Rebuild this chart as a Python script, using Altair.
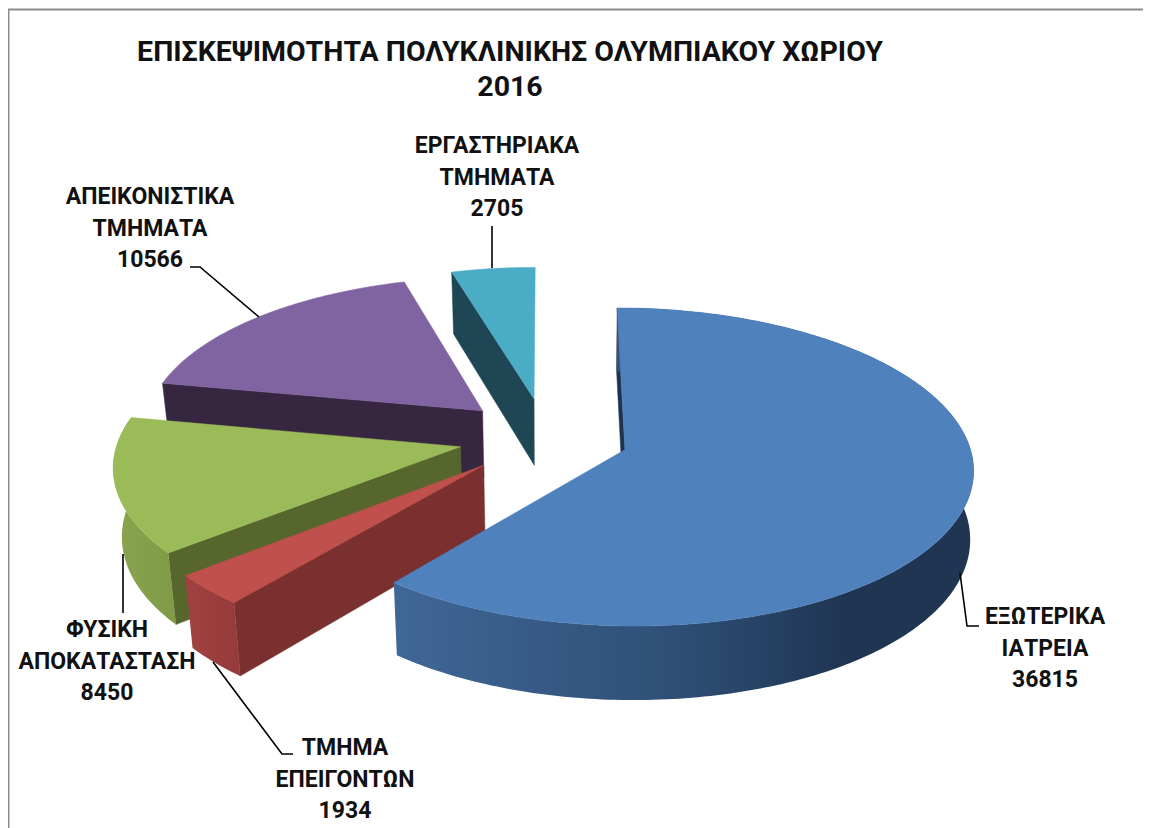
import math
import altair as alt

TITLE = ["ΕΠΙΣΚΕΨΙΜΟΤΗΤΑ ΠΟΛΥΚΛΙΝΙΚΗΣ ΟΛΥΜΠΙΑΚΟΥ ΧΩΡΙΟΥ", "2016"]
CATEGORIES = ["ΕΞΩΤΕΡΙΚΑ\nΙΑΤΡΕΙΑ", "ΤΜΗΜΑ\nΕΠΕΙΓΟΝΤΩΝ", "ΦΥΣΙΚΗ\nΑΠΟΚΑΤΑΣΤΑΣΗ",
              "ΑΠΕΙΚΟΝΙΣΤΙΚΑ\nΤΜΗΜΑΤΑ", "ΕΡΓΑΣΤΗΡΙΑΚΑ\nΤΜΗΜΑΤΑ"]
VALUES = [36815, 1934, 8450, 10566, 2705]
TOP_COLORS = ["#4F81BD", "#C0504D", "#9BBB59", "#8064A2", "#4BACC6"]
RADIAL_COLORS = ["#1E3350", "#7A302E", "#56662C", "#36263F", "#1E4654"]
OUTER_STOPS = [
    [(0, "#3F6797"), (0.5, "#2E4E74"), (0.78, "#1F3552"), (1, "#1F3552")],
    [(0, "#A04241"), (1, "#953B39")],
    [(0, "#8AA54E"), (1, "#7F9A46")],
    None,
    None,
]
LABEL_X = [1045, 345, 107, 150, 497]
LABEL_Y = [617, 748, 630, 197, 146]
LEADERS = [
    [(960, 573), (967, 626), (979, 626)],
    [(213, 662), (282, 754), (293, 754)],
    [(123, 554), (123, 613)],
    [(190, 267), (200, 267), (259, 317)],
    [(492, 226), (492, 268)],
]
EXPLODE = [0.24, 0.25, 0.253, 0.253, 0.253]
RADIUS = [0.99, 1.0, 0.988, 0.983, 0.983]

FONT = "Roboto"
FONT_SIZE = 23
CX, CY, R, RT, K = 546, 437, 346, 156, 0.109
W, H = 1135, 820
PROJ = dict(type="identity", scale=1, translate=[-8, -8])


def screen(px, py):
    s = 1 / (1 + K * py)
    return (CX + R * px * s, CY - RT * py * s)


def lower(p):
    x, y = p
    scale = 0.98 if x < CX else 0.992
    return (CX + (x - CX) * scale, y + 67.6 + 0.034 * (y - CY))


def polygon(points):
    ring = [[round(x, 2), round(y, 2)] for x, y in points]
    ring.append(ring[0])
    return {"type": "Feature", "properties": {}, "geometry": {"type": "Polygon", "coordinates": [ring]}}


def shape(feature, **mark):
    data = alt.Data(values={"type": "FeatureCollection", "features": [feature]},
                    format=alt.DataFormat(property="features", type="json"))
    return alt.Chart(data).mark_geoshape(**mark).project(**PROJ)


total = sum(VALUES)
slices = []
start = 0.0
for v in VALUES:
    end = start + v / total * 2 * math.pi
    slices.append((start, end))
    start = end

layers = []
for i in reversed(range(len(VALUES))):
    a0, a1 = slices[i]
    mid = (a0 + a1) / 2
    ox, oy = EXPLODE[i] * math.sin(mid), EXPLODE[i] * math.cos(mid)
    n = max(int((a1 - a0) * 60), 6)
    rr = RADIUS[i]
    arc = [screen(ox + rr * math.sin(a0 + (a1 - a0) * j / n), oy + rr * math.cos(a0 + (a1 - a0) * j / n))
           for j in range(n + 1)]
    apex = screen(ox, oy)
    radial = [apex, arc[0], lower(arc[0]), lower(apex)]
    layers.append(shape(polygon(radial), fill=RADIAL_COLORS[i], stroke=RADIAL_COLORS[i], strokeWidth=0.5))
    if OUTER_STOPS[i]:
        outer = arc + [lower(p) for p in reversed(arc)]
        grad = alt.LinearGradient(gradient="linear", x1=0, x2=1, y1=0, y2=0,
                                  stops=[alt.GradientStop(offset=o, color=c) for o, c in OUTER_STOPS[i]])
        layers.append(shape(polygon(outer), fill=grad, strokeWidth=0))
    layers.append(shape(polygon([apex] + arc), fill=TOP_COLORS[i], stroke=TOP_COLORS[i], strokeWidth=0.5))

for pts in LEADERS:
    feature = {"type": "Feature", "properties": {},
               "geometry": {"type": "LineString", "coordinates": [list(p) for p in pts]}}
    layers.append(shape(feature, filled=False, stroke="#000000", strokeWidth=1.6))

labels = [{"text": f"{c}\n{v}", "px": x - 8, "py": y - 8}
          for c, v, x, y in zip(CATEGORIES, VALUES, LABEL_X, LABEL_Y)]
layers.append(
    alt.Chart(alt.Data(values=labels)).mark_text(
        font=FONT, fontSize=FONT_SIZE, fontWeight="bold", color="#111111",
        lineBreak="\n", lineHeight=31.5, align="center", baseline="middle",
    ).encode(
        x=alt.X("px:Q", scale=alt.Scale(domain=[0, W], range=[0, W]), axis=None),
        y=alt.Y("py:Q", scale=alt.Scale(domain=[0, H], range=[0, H]), axis=None),
        text="text:N",
    )
)

frame = [
    alt.Chart(alt.Data(values=[{"a": 0}])).mark_rule(color="#8C8C8C", strokeWidth=2).encode(
        x=alt.value(0.5), y=alt.value(1), y2=alt.value(H)),
    alt.Chart(alt.Data(values=[{"a": 0}])).mark_rule(color="#8C8C8C", strokeWidth=2).encode(
        x=alt.value(0), x2=alt.value(W), y=alt.value(1.5)),
]

chart = alt.layer(*frame, *layers).resolve_scale(x="independent", y="independent").properties(
    width=W, height=H,
    padding=0,
    autosize=alt.AutoSizeParams(type="none"),
    background="#FFFFFF",
    title=alt.TitleParams(
        text=TITLE, font=FONT, fontSize=28.5, fontWeight="bold", color="#111111",
        anchor="start", align="center", dx=503, dy=107, baseline="middle", lineHeight=35, offset=0,
    ),
).configure_view(strokeWidth=0)

chart.save("out.html", embed_options={"renderer": "svg", "actions": False})
